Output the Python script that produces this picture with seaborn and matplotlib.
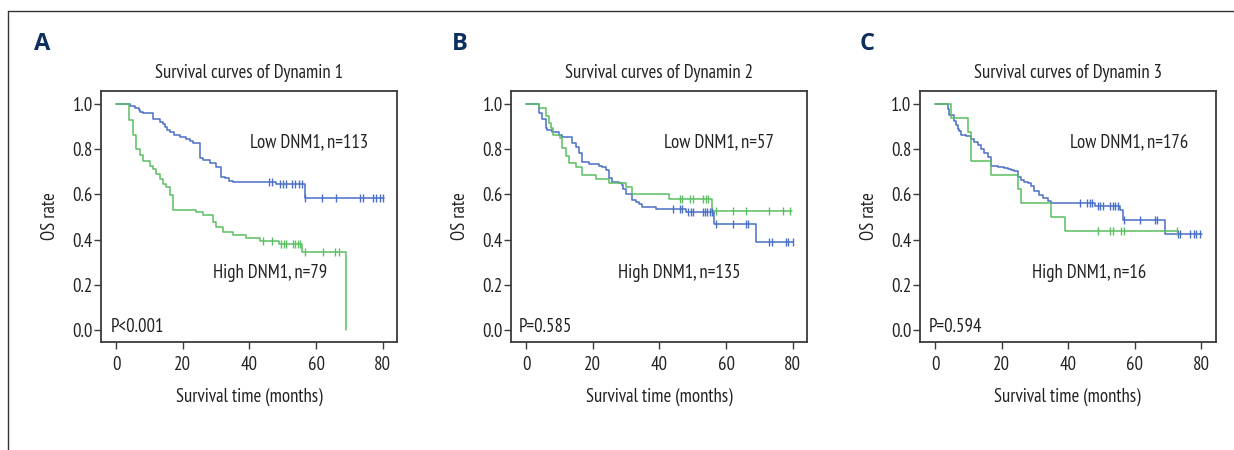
import numpy as np
import pandas as pd
import matplotlib
matplotlib.use("Agg")
import matplotlib.pyplot as plt
import seaborn as sns
from matplotlib.lines import Line2D

# ---------------- data ----------------
panel_letters = ["A", "B", "C"]
titles = ["Survival curves of Dynamin 1", "Survival curves of Dynamin 2", "Survival curves of Dynamin 3"]
low_labels = ["Low DNM1, n=113", "Low DNM1, n=57", "Low DNM1, n=176"]
high_labels = ["High DNM1, n=79", "High DNM1, n=135", "High DNM1, n=16"]
p_labels = ["P<0.001", "P=0.585", "P=0.594"]
x_ticks = [0, 20, 40, 60, 80]
y_ticks = [0.0, 0.2, 0.4, 0.6, 0.8, 1.0]
y_ticklabels = ["0.0", "0.2", "0.4", "0.6", "0.8", "1.0"]

# Panel A
a_blue_times = [4.0, 5.7, 6.7, 7.2, 8.0, 11.0, 13.2, 14.0, 14.7, 15.2, 16.2, 17.2, 19.0, 21.0, 22.0, 23.0,
                25.0, 26.0, 28.0, 30.0, 31.5, 32.5, 33.7, 35.0, 48.1, 56.8]
a_blue_surv = [0.991, 0.984, 0.973, 0.966, 0.958, 0.932, 0.922, 0.910, 0.897, 0.885, 0.875, 0.863, 0.853, 0.845, 0.836, 0.826,
               0.760, 0.752, 0.738, 0.723, 0.679, 0.672, 0.661, 0.655, 0.646, 0.583]
a_blue_end = 80.3
a_blue_cens = [46.0, 46.7, 49.1, 50.1, 51.1, 52.8, 53.8, 54.8, 55.8, 56.8, 61.8, 66.1, 73.1, 74.1, 77.1, 78.1, 79.1, 80.1]

a_green_times = [3.7, 5.0, 6.0, 7.0, 8.0, 10.0, 11.0, 12.0, 13.0, 14.0, 15.0, 16.0, 17.0, 24.0, 26.0, 29.0, 30.0,
                 32.0, 35.0, 39.0, 43.2, 48.8, 55.8, 69.0]
a_green_surv = [0.929, 0.863, 0.800, 0.774, 0.749, 0.727, 0.712, 0.689, 0.668, 0.645, 0.634, 0.597, 0.531, 0.521, 0.509, 0.480, 0.458,
                0.433, 0.420, 0.405, 0.395, 0.381, 0.343, 0.0]
a_green_end = 69.0
a_green_cens = [44.0, 46.7, 49.5, 50.3, 51.1, 53.1, 53.8, 54.5, 55.3, 56.8, 62.1, 65.8, 66.8]

# Panel B
b_blue_times = [3.8, 4.8, 5.8, 6.1, 7.8, 9.8, 10.8, 13.8, 14.8, 15.8, 16.8, 18.8, 21.8, 22.8, 23.8, 24.8, 25.8,
                27.8, 28.6, 29.1, 29.8, 31.8, 32.8, 33.8, 34.8, 38.8, 48.0, 56.4, 69.0]
b_blue_surv = [0.958, 0.934, 0.895, 0.885, 0.874, 0.865, 0.855, 0.826, 0.811, 0.782, 0.745, 0.735, 0.727, 0.720, 0.708, 0.671, 0.653,
               0.649, 0.642, 0.622, 0.600, 0.575, 0.565, 0.556, 0.543, 0.534, 0.522, 0.467, 0.389]
b_blue_end = 80.0
b_blue_cens = [44.0, 46.2, 46.9, 48.7, 49.4, 50.2, 53.0, 53.7, 54.4, 55.2, 55.9, 57.0, 62.0, 66.0, 66.7, 73.0, 73.7, 78.0, 78.7, 80.0]

b_green_times = [3.8, 5.8, 6.8, 7.4, 8.1, 10.1, 10.8, 11.9, 12.9, 14.8, 16.8, 20.8, 24.8, 29.9, 31.8, 42.9, 55.9]
b_green_surv = [0.984, 0.948, 0.915, 0.892, 0.863, 0.848, 0.807, 0.771, 0.738, 0.723, 0.686, 0.668, 0.649, 0.634, 0.600, 0.581, 0.526]
b_green_end = 79.8
b_green_cens = [46.2, 46.9, 49.3, 50.0, 53.2, 53.9, 54.7, 57.0, 62.0, 66.0, 73.0, 77.0, 79.3]

# Panel C
c_blue_times = [3.8, 4.3, 5.8, 6.3, 6.8, 7.3, 7.8, 9.3, 10.8, 11.8, 12.8, 13.8, 14.8, 15.8, 16.8, 18.8, 20.8,
                21.8, 22.8, 23.8, 24.8, 25.8, 26.8, 27.8, 28.8, 29.8, 31.3, 32.3, 33.8, 34.8, 47.9, 55.7, 56.5, 69.0]
c_blue_surv = [0.976, 0.952, 0.923, 0.905, 0.890, 0.879, 0.864, 0.858, 0.847, 0.832, 0.820, 0.802, 0.785, 0.765, 0.725, 0.721, 0.717,
               0.711, 0.706, 0.702, 0.677, 0.662, 0.657, 0.651, 0.639, 0.617, 0.598, 0.584, 0.573, 0.563, 0.548, 0.533, 0.487, 0.425]
c_blue_end = 80.3
c_blue_cens = [43.6, 45.6, 46.4, 47.1, 48.9, 49.7, 50.5, 52.7, 53.5, 54.2, 55.0, 56.7, 61.7, 66.0, 66.7,
               73.0, 73.7, 76.7, 77.7, 78.5, 79.5]

c_green_times = [4.8, 9.8, 10.8, 16.8, 24.8, 25.8, 34.8, 38.9]
c_green_surv = [0.9375, 0.875, 0.75, 0.6875, 0.625, 0.5625, 0.5, 0.4375]
c_green_end = 72.7
c_green_cens = [48.9, 52.7, 53.5, 56.0, 56.7, 72.7]

panels = [
    dict(blue=(a_blue_times, a_blue_surv, a_blue_end, a_blue_cens),
         green=(a_green_times, a_green_surv, a_green_end, a_green_cens),
         low_pos=(40.2, 0.832), high_pos=(29.1, 0.252), p_pos=(-1.8, 0.013)),
    dict(blue=(b_blue_times, b_blue_surv, b_blue_end, b_blue_cens),
         green=(b_green_times, b_green_surv, b_green_end, b_green_cens),
         low_pos=(41.3, 0.832), high_pos=(27.6, 0.252), p_pos=(-2.3, 0.013)),
    dict(blue=(c_blue_times, c_blue_surv, c_blue_end, c_blue_cens),
         green=(c_green_times, c_green_surv, c_green_end, c_green_cens),
         low_pos=(40.4, 0.832), high_pos=(29.2, 0.252), p_pos=(-2.0, 0.013)),
]

BLUE = "#4a6fc6"
GREEN = "#5cbf62"
AXC = "#3a3a3a"
TXT = "#222222"
NAVY = "#0c2f5f"

sns.set_style("ticks")
FONT = ["PT Sans Narrow", "Fira Sans Condensed", "DejaVu Sans"]
plt.rcParams["font.family"] = FONT
FS = 13.5

W, H = 1234, 450
fig = plt.figure(figsize=(W / 100, H / 100), dpi=100)

# frame lines
fig.add_artist(Line2D([8 / W, 1.0], [1 - 11 / H, 1 - 11 / H], color="#333333", lw=1.0))
fig.add_artist(Line2D([8 / W, 8 / W], [0, 1 - 11 / H], color="#333333", lw=1.0))

ax_lefts = [101, 511, 919.7]
ax_top, ax_bot = 91, 342
ax_w = 296
letter_x = [34, 452, 860]


def step_value(times, surv, t):
    idx = np.searchsorted(np.asarray(times), t, side="right")
    vals = [1.0] + list(surv)
    return vals[idx]


def draw_group(ax, times, surv, end, cens, color):
    xs = [0.0] + list(times) + [end]
    ys = [1.0] + list(surv) + [surv[-1]]
    df = pd.DataFrame({"t": xs, "s": ys})
    sns.lineplot(data=df, x="t", y="s", ax=ax, color=color, lw=1.1,
                 drawstyle="steps-post", estimator=None, sort=False)
    cdf = pd.DataFrame({"t": cens, "s": [step_value(times, surv, c) for c in cens]})
    sns.scatterplot(data=cdf, x="t", y="s", ax=ax, color=color, marker="|", s=28,
                    linewidth=1.0, zorder=3)


for i, p in enumerate(panels):
    rect = [ax_lefts[i] / W, 1 - ax_bot / H, ax_w / W, (ax_bot - ax_top) / H]
    ax = fig.add_axes(rect)
    draw_group(ax, *p["blue"], BLUE)
    draw_group(ax, *p["green"], GREEN)
    ax.set_xlim(-4.6, 84.3)
    ax.set_ylim(-0.053, 1.0575)
    ax.set_xticks(x_ticks)
    ax.set_xticklabels([str(v) for v in x_ticks])
    ax.set_yticks(y_ticks)
    ax.set_yticklabels(y_ticklabels)
    for sp in ax.spines.values():
        sp.set_visible(True)
        sp.set_color(AXC)
        sp.set_linewidth(1.3)
    ax.tick_params(axis="both", direction="out", length=5, width=1.0, color=AXC,
                   labelsize=FS, labelcolor=TXT)
    ax.tick_params(axis="x", pad=5)
    ax.tick_params(axis="y", pad=1)
    ax.set_xlabel("Survival time (months)", fontsize=FS, color=TXT)
    ax.xaxis.label.set_va("center")
    ax.xaxis.set_label_coords(0.5, -(397 - ax_bot) / (ax_bot - ax_top))
    ax.set_ylabel("OS rate", fontsize=FS, color=TXT)
    ax.yaxis.label.set_va("center")
    ax.yaxis.set_label_coords(-51 / ax_w, 0.5)
    ax.text(0.5, 1 + (ax_top - 72.7) / (ax_bot - ax_top), titles[i], transform=ax.transAxes,
            ha="center", va="center", fontsize=FS, color=TXT)
    ax.text(*p["low_pos"], low_labels[i], ha="left", va="center", fontsize=FS, color=TXT)
    ax.text(*p["high_pos"], high_labels[i], ha="left", va="center", fontsize=FS, color=TXT)
    ax.text(*p["p_pos"], p_labels[i], ha="left", va="center", fontsize=FS, color=TXT)
    fig.text(letter_x[i] / W, 1 - 44.5 / H, panel_letters[i], ha="left", va="center",
             fontsize=17, fontweight="bold", color=NAVY, family=["Open Sans", "DejaVu Sans"])

fig.savefig("out.png", dpi=100)
